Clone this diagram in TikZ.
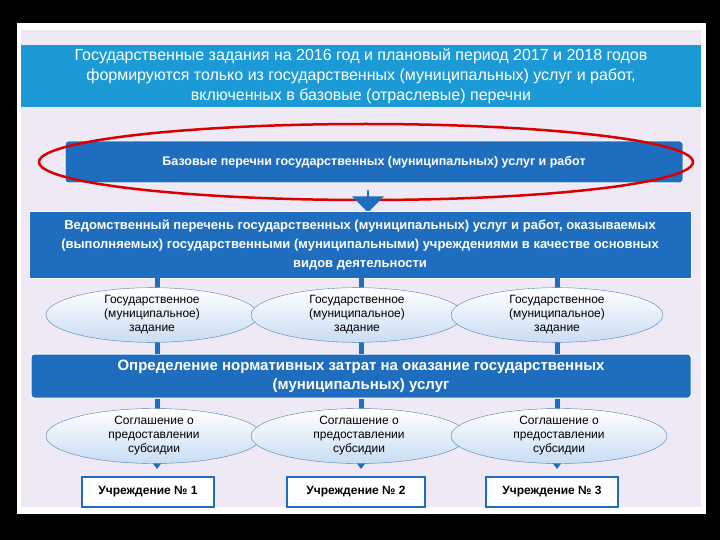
\documentclass[tikz,border=0pt]{standalone}
\usepackage{fontspec}
\setmainfont{Liberation Sans}
\usetikzlibrary{shapes.geometric,shapes.arrows}
\definecolor{cyanbox}{HTML}{1C9AD6}
\definecolor{bluebox}{HTML}{1F6DBE}
\definecolor{lav}{HTML}{EEE9F4}
\definecolor{elfill}{HTML}{C9DDF3}
\definecolor{elline}{HTML}{4F7FB8}
\begin{document}
\begin{tikzpicture}[x=1pt,y=-1pt,
  bx/.style={fill=bluebox,text=white,rounded corners=3pt,draw=white,line width=1pt,align=center,inner sep=0pt},
  el/.style={ellipse,draw=elline,top color=white,bottom color=elfill,minimum width=212pt,minimum height=48pt,align=center,font=\fontsize{12}{14}\selectfont,inner sep=0pt},
  inst/.style={draw=bluebox,line width=1.2pt,fill=white,minimum width=132pt,minimum height=30pt,font=\bfseries\fontsize{12}{14}\selectfont},
  bar/.style={draw=bluebox,line width=5pt}]
\useasboundingbox (0,0) rectangle (720,540);
\fill[black] (0,0) rectangle (720,540);
\fill[white] (17,23) rectangle (706,514);
\fill[lav] (21,30) rectangle (701,507);
\node[fill=cyanbox,text=white,minimum width=680pt,minimum height=62pt,align=center,font=\fontsize{16}{20}\selectfont,inner sep=0pt] (top) at (361,76)
 {Государственные задания на 2016 год и плановый период 2017 и 2018 годов\\ формируются только из государственных (муниципальных) услуг и работ,\\ включенных в базовые (отраслевые) перечни};
\node[bx,minimum width=618pt,minimum height=42pt,font=\bfseries\fontsize{12.5}{16}\selectfont] (base) at (374,162) {Базовые перечни государственных (муниципальных) услуг и работ};
\draw[red!85!black,line width=2.5pt] (366,162) ellipse (327pt and 38pt);
\node[single arrow,shape border rotate=270,fill=bluebox,minimum width=32pt,single arrow head extend=4pt,minimum height=22pt,inner sep=0pt] (arr) at (368,201) {};
\node[bx,rounded corners=0pt,minimum width=662pt,minimum height=66pt,font=\bfseries\fontsize{13}{19}\selectfont] (ved) at (360,245)
 {Ведомственный перечень государственных (муниципальных) услуг и работ, оказываемых\\ (выполняемых) государственными (муниципальными) учреждениями в качестве основных\\ видов деятельности};
\node[bx,minimum width=660pt,minimum height=44pt,font=\bfseries\fontsize{15}{19}\selectfont] (opr) at (361,376)
 {Определение нормативных затрат на оказание государственных\\ (муниципальных) услуг};
\foreach \i/\x/\y in {1/157/152,2/361/357,3/557/557}{
  \draw[bar] (\x,278) -- (\x,354);
  \draw[bar] (\x,399) -- (\x,462);
  \fill[bluebox] (\x-6,461) -- (\x+6,461) -- (\x,469) -- cycle;
}
\foreach \i/\y in {1/152,2/357,3/557}{
  \node[el] (z\i) at (\y,315) {Государственное\\ (муниципальное)\\ задание};
  \node[el,minimum width=216pt,minimum height=52pt] (s\i) at (\y+2,436) {Соглашение о\\ предоставлении\\ субсидии};
}
\node[inst] (u1) at (148,492) {Учреждение № 1};
\node[inst,minimum width=138pt] (u2) at (356,492) {Учреждение № 2};
\node[inst] (u3) at (552,492) {Учреждение № 3};
\end{tikzpicture}
\end{document}
